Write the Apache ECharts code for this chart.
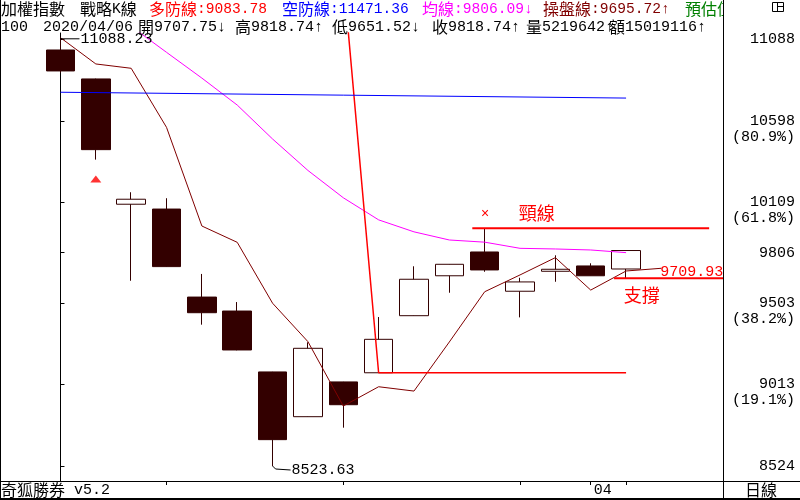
<!DOCTYPE html>
<html><head><meta charset="utf-8">
<script src="https://cdn.jsdelivr.net/npm/echarts@6/dist/echarts.min.js"></script>
<style>html,body{margin:0;padding:0;background:#fff}#c{width:800px;height:500px}</style>
</head><body><div id="c"></div>
<script>
// ---- data ----
const dates  = ['03/11','03/12','03/13','03/16','03/17','03/18','03/19','03/20','03/23','03/24','03/25','03/26','03/27','03/30','03/31','04/01','04/06'];
const opens  = [11024, 10850, 10097, 10068, 9539, 9455, 9089, 8820, 9029, 9084, 9427, 9667, 9810, 9574, 9694, 9726, 9707.75];
const closes = [10898, 10425, 10127, 9722, 9445, 9221, 8682, 9231, 8892, 9285, 9646, 9736, 9702, 9630, 9706, 9667, 9818.74];
const lows   = [10887, 10365, 9637, 9720, 9373, 9219, 8523.63, 8819, 8754, 9083, 9426, 9565, 9691, 9417, 9631, 9666, 9651.52];
const highs  = [11088.23, 10852, 10169, 10133, 9678, 9509, 9090, 9267, 9030, 9419, 9724, 9737, 9948, 9655, 9790, 9742, 9818.74];
// 操盤線 (last point = projection)
const tradeLine = [11098, 10940, 10914, 10559, 9966, 9868, 9502, 9271, 8884, 9000, 8974, 9269, 9571, 9672, 9776, 9581, 9695.72, 9712];
// 均線
const avgLine = [null, null, 11166, 11010, 10855, 10693, 10489, 10300, 10136, 10003, 9931, 9882, 9869, 9832, 9828, 9822, 9806.09];
// 多防線
const bullDefense = [null, null, null, null, null, null, null, null, 11471.36, 9083.78, 9083.78, 9083.78, 9083.78, 9083.78, 9083.78, 9083.78, 9083.78];
// blue trend line (two end points)
const trendLine = [10770, null, null, null, null, null, null, null, null, null, null, null, null, null, null, null, 10735];
// neckline / support (position in candle index units, value)
const necklineFrom = 11.65, necklineTo = 18.35, necklineValue = 9952;
const supportFrom = 15.66, supportTo = 19.69, supportValue = 9651.52;
const signalIdx = 1, signalValue = 10248;
// right axis ticks (fibonacci levels)
const tickValues   = [8523.63, 9013.47, 9503.31, 9805.93, 10108.55, 10598.39, 11088.23];
const tickLabels   = ['8524', '9013', '9503', '9806', '10109', '10598', '11088'];
const tickPercents = ['', '(19.1%)', '(38.2%)', '', '(61.8%)', '(80.9%)', ''];
// bottom axis
const weekTickIdx = [3, 8, 13, 15, 16];
const monthLabelIdx = [15];
const monthLabels = ['04'];
// annotations [text, idx, value]
const notes = [['頸線', 13.47, 10041], ['×', 12.01, 10038], ['支撐', 16.44, 9551], ['9709.93', 17.86, 9687]];
const highIdx = 0, lowIdx = 6;

// ---- layout ----
const X_MIN = -1.711, X_MAX = 18.742;
const Y_MIN = 8433.5, Y_MAX = 11126.1;
const MONO = '"Liberation Mono", monospace';
const CJK = '"Noto Sans CJK TC"';
const RED = '#ff0000', DARK = '#330000';

const pairs = arr => arr.map((v, i) => [i, v]).filter(p => p[1] != null);

const chart = echarts.init(document.getElementById('c'), null, {renderer: 'canvas'});
const option = {
  animation: false,
  backgroundColor: '#fff',
  grid: {left: 0, right: 77, top: 33, bottom: 19, containLabel: false, outerBoundsMode: 'none'},
  xAxis: {
    type: 'value', min: X_MIN, max: X_MAX, position: 'bottom',
    axisLine: {show: true, onZero: false, lineStyle: {color: '#000', width: 1}},
    axisTick: {show: true, customValues: weekTickIdx, length: 4, lineStyle: {color: '#000'}},
    axisLabel: {show: true, customValues: monthLabelIdx, hideOverlap: false,
      formatter: v => monthLabels[monthLabelIdx.indexOf(Math.round(v))] || '',
      align: 'left', padding: [0, 0, 0, 3], margin: 2, color: '#000', fontFamily: MONO, fontSize: 15},
    splitLine: {show: false}
  },
  yAxis: {
    type: 'value', position: 'right', min: Y_MIN, max: Y_MAX,
    axisLine: {show: true, lineStyle: {color: '#000', width: 1}},
    axisTick: {show: true, customValues: tickValues, length: 4, lineStyle: {color: '#000'}},
    axisLabel: {show: true, customValues: tickValues, hideOverlap: false,
      formatter: function (v) {
        let k = 0, best = 1e9;
        tickValues.forEach((t, i) => { const d = Math.abs(t - v); if (d < best) { best = d; k = i; } });
        return tickPercents[k] ? '\n' + tickLabels[k] + '\n' + tickPercents[k] : tickLabels[k];
      },
      align: 'right', margin: 72, color: '#000', fontFamily: MONO, fontSize: 15, lineHeight: 16},
    splitLine: {show: false}
  },
  series: [
    {type: 'candlestick', data: dates.map((d, i) => [i, opens[i], closes[i], lows[i], highs[i]]),
     encode: {x: 0, y: [1, 2, 3, 4]}, barWidth: 29, silent: true,
     itemStyle: {color: '#fff', color0: DARK, borderColor: DARK, borderColor0: DARK, borderWidth: 1}},
    {type: 'line', data: pairs(tradeLine), showSymbol: false, silent: true, z: 3,
     lineStyle: {color: '#800000', width: 1}},
    {type: 'line', data: pairs(avgLine), showSymbol: false, silent: true, z: 3,
     lineStyle: {color: '#ff00ff', width: 1}},
    {type: 'line', data: pairs(bullDefense), showSymbol: false, silent: true, z: 3,
     lineStyle: {color: RED, width: 1.5}},
    {type: 'line', data: pairs(trendLine), showSymbol: false, silent: true, z: 3,
     lineStyle: {color: '#0000ff', width: 1}},
    {type: 'line', data: [[necklineFrom, necklineValue], [necklineTo, necklineValue]], showSymbol: false, silent: true, z: 4,
     lineStyle: {color: RED, width: 2}},
    {type: 'line', data: [[supportFrom, supportValue], [supportTo, supportValue]], clip: false, showSymbol: false, silent: true, z: 4,
     lineStyle: {color: RED, width: 2}},
    {type: 'scatter', data: [[signalIdx, signalValue]], symbol: 'triangle', symbolSize: [11, 7], silent: true, z: 4,
     itemStyle: {color: RED}}
  ]
};
chart.setOption(option);

// ---- text / frame graphics ----
function rich(str) {
  const runs = str.match(/[\u3000-\u9fff\uff00-\uffef]+|[^\u3000-\u9fff\uff00-\uffef]+/g) || [];
  return runs.map(r => (/[\u3000-\u9fff\uff00-\uffef]/.test(r) ? '{c|' : '{n|') + r + '}').join('');
}
function hdr(text, x, y, color, nSize) {
  return {type: 'text', x: x, y: y, z: 50, silent: true,
    style: {text: rich(text), fill: color, verticalAlign: 'middle', align: 'left',
      rich: {c: {fontFamily: CJK, fontSize: 16, fill: color}, n: {fontFamily: MONO, fontSize: nSize, fill: color}}}};
}
const g = [];
const row1 = [['加權指數', 1, '#000'], ['戰略K線', 80, '#000'], ['多防線:9083.78', 149, '#ff0000'],
  ['空防線:11471.36', 282, '#0000ff'], ['均線:9806.09↓', 422, '#ff00ff'], ['操盤線:9695.72↑', 543, '#800000'], ['預估值:9707', 685, '#008000']];
const row2 = [['100', 1], ['2020/04/06', 43], ['開9707.75↓', 138], ['高9818.74↑', 235], ['低9651.52↓', 332],
  ['收9818.74↑', 432], ['量5219642↑', 526], ['額15019116↑', 609]];
row1.forEach(s => g.push(hdr(s[0], s[1], 9, s[2], 14.6)));
row2.forEach(s => g.push(hdr(s[0], s[1], 27, '#000', 15)));
// mask right of header
g.push({type: 'rect', z: 60, silent: true, shape: {x: 724, y: 0, width: 76, height: 33}, style: {fill: '#fff'}});
// small window icon
g.push({type: 'rect', z: 61, silent: true, shape: {x: 772.5, y: 2.5, width: 11, height: 9}, style: {fill: 'none', stroke: '#000', lineWidth: 1}});
g.push({type: 'line', z: 61, silent: true, shape: {x1: 777.5, y1: 2.5, x2: 777.5, y2: 11.5}, style: {stroke: '#000', lineWidth: 1}});
g.push({type: 'line', z: 61, silent: true, shape: {x1: 777.5, y1: 6.5, x2: 783.5, y2: 6.5}, style: {stroke: '#000', lineWidth: 1}});
// frame
const L = (x1, y1, x2, y2, w) => g.push({type: 'line', z: 61, silent: true, shape: {x1, y1, x2, y2}, style: {stroke: '#000', lineWidth: w || 1}});
L(0.5, 0, 0.5, 500);
L(723.5, 0, 723.5, 500);
L(0, 481.5, 800, 481.5);
L(0, 499, 800, 499, 2);
// bottom band texts
g.push(hdr('奇狐勝券 v5.2', 1, 490, '#000', 15));
g.push({type: 'text', x: 761, y: 490, z: 50, silent: true, style: {text: '日線', fill: '#000', font: '16px ' + CJK, align: 'center', verticalAlign: 'middle'}});

// annotations placed through the axes
const P = (x, v) => chart.convertToPixel({xAxisIndex: 0, yAxisIndex: 0}, [x, v]);
const hp = P(highIdx, highs[highIdx]);
g.push({type: 'line', z: 20, silent: true, shape: {x1: hp[0], y1: hp[1] - 0.5, x2: hp[0] + 19, y2: hp[1] - 0.5}, style: {stroke: '#000', lineWidth: 1}});
g.push({type: 'text', z: 20, silent: true, x: hp[0] + 20, y: hp[1], style: {text: highs[highIdx].toFixed(2), fill: '#000', font: '15px ' + MONO, verticalAlign: 'middle'}});
const lp = P(lowIdx, lows[lowIdx]);
g.push({type: 'polyline', z: 20, silent: true, shape: {points: [[lp[0], lp[1]], [lp[0] + 3, lp[1] + 3], [lp[0] + 18, lp[1] + 4]]}, style: {stroke: '#000', fill: null, lineWidth: 1}});
g.push({type: 'text', z: 20, silent: true, x: lp[0] + 19, y: lp[1] + 4.5, style: {text: lows[lowIdx].toFixed(2), fill: '#000', font: '15px ' + MONO, verticalAlign: 'middle'}});
notes.forEach(n => {
  const p = P(n[1], n[2]);
  const isCjk = /[\u3000-\u9fff]/.test(n[0]);
  const font = isCjk ? '18px ' + CJK : (n[0] === '×' ? '14px "Liberation Sans"' : '15px ' + MONO);
  g.push({type: 'text', z: 20, silent: true, x: p[0], y: p[1], style: {text: n[0], fill: RED, font: font, align: 'center', verticalAlign: 'middle'}});
});
chart.setOption({graphic: g});
</script>
</body></html>
